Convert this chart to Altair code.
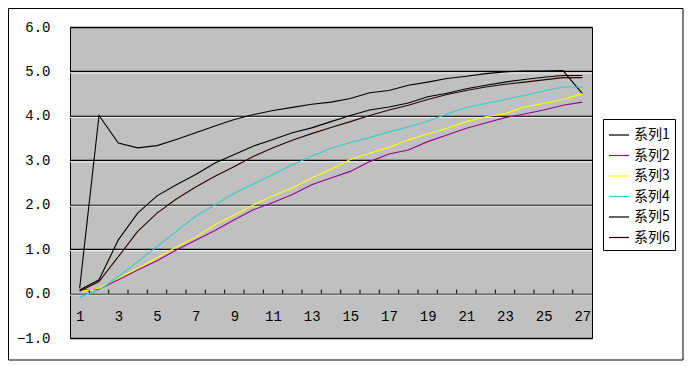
import altair as alt
import pandas as pd

categories = list(range(1, 28))
series_names = ["系列1", "系列2", "系列3", "系列4", "系列5", "系列6"]

s1 = [0.12, 4.01, 3.39, 3.28, 3.33, 3.47, 3.62, 3.77, 3.92, 4.03, 4.12, 4.19, 4.26, 4.31,
      4.39, 4.52, 4.57, 4.69, 4.76, 4.84, 4.89, 4.95, 4.99, 5.01, 5.01, 5.02, 4.50]
s2 = [0.08, 0.10, 0.31, 0.53, 0.74, 0.98, 1.20, 1.42, 1.66, 1.89, 2.05, 2.23, 2.45, 2.60,
      2.75, 2.97, 3.14, 3.23, 3.42, 3.57, 3.72, 3.84, 3.96, 4.04, 4.13, 4.24, 4.31]
s3 = [0.05, 0.12, 0.35, 0.57, 0.80, 1.05, 1.27, 1.55, 1.77, 2.00, 2.20, 2.38, 2.60, 2.80,
      3.02, 3.16, 3.29, 3.46, 3.59, 3.72, 3.87, 3.98, 4.05, 4.20, 4.28, 4.37, 4.50]
s4 = [-0.08, 0.08, 0.38, 0.72, 1.06, 1.40, 1.74, 2.00, 2.26, 2.47, 2.68, 2.90, 3.09, 3.27,
      3.40, 3.51, 3.64, 3.75, 3.88, 4.04, 4.19, 4.28, 4.37, 4.46, 4.56, 4.65, 4.65]
s5 = [0.08, 0.31, 1.21, 1.81, 2.20, 2.45, 2.68, 2.94, 3.13, 3.32, 3.47, 3.62, 3.73, 3.87,
      4.01, 4.13, 4.20, 4.29, 4.43, 4.51, 4.61, 4.69, 4.76, 4.82, 4.87, 4.91, 4.91]
s6 = [0.05, 0.27, 0.83, 1.40, 1.81, 2.13, 2.40, 2.64, 2.86, 3.09, 3.28, 3.45, 3.60, 3.74,
      3.87, 4.01, 4.13, 4.24, 4.37, 4.48, 4.57, 4.65, 4.71, 4.76, 4.81, 4.86, 4.86]

y_ticks = [-1, 0, 1, 2, 3, 4, 5, 6]
x_label_values = [c for c in categories if c % 2 == 1]
x_tick_values = [c + 0.5 for c in categories[:-1]]

colors = ["#000000", "#990099", "#FFFF00", "#33CCCC", "#000000", "#2a0000"]

all_series = [s1, s2, s3, s4, s5, s6]
rows = []
for name, vals in zip(series_names, all_series):
    for c, v in zip(categories, vals):
        rows.append({"cat": c, "value": v, "series": name})
df = pd.DataFrame(rows)

W, H = 522, 311
px_per_unit = H / 7
tick_len = 4 / px_per_unit
xscale = alt.Scale(domain=[0.5, 27.5], nice=False, zero=False)
yscale = alt.Scale(domain=[-1, 6], nice=False, zero=False)
zero_from_top = H * 6 / 7

lines = alt.Chart(df).mark_line(strokeWidth=1.1).encode(
    x=alt.X("cat:Q", scale=xscale, title=None,
            axis=alt.Axis(orient="bottom", offset=-(H - zero_from_top), values=x_label_values,
                          format="d", ticks=False, domain=False, grid=False,
                          labelPadding=16, labelFont="Liberation Mono", labelFontSize=14,
                          labelColor="#000000", labelFlush=False)),
    y=alt.Y("value:Q", scale=yscale, title=None,
            axis=alt.Axis(values=y_ticks, format=".1f", ticks=False, domain=False,
                          grid=True, gridColor="#000000", gridWidth=1.3,
                          labelPadding=20, labelFont="Liberation Mono", labelFontSize=14,
                          labelColor="#000000")),
    color=alt.Color("series:N", title=None,
                    scale=alt.Scale(domain=series_names, range=colors),
                    legend=alt.Legend(orient="none", legendX=533, legendY=92,
                                      direction="vertical", strokeColor="#000000",
                                      fillColor="#FFFFFF", padding=5,
                                      symbolType="stroke", symbolSize=400,
                                      symbolStrokeWidth=1.2, labelFont="Noto Sans CJK SC",
                                      labelFontSize=14, labelColor="#000000",
                                      rowPadding=2.5, labelOffset=4)),
    detail="series:N",
)

# white highlight under each gridline (3D look of the original)
hl_df = pd.DataFrame({"g": y_ticks[1:-1]})
highlight = alt.Chart(hl_df).mark_rule(color="#FFFFFF", strokeWidth=1, yOffset=1.5).encode(
    y=alt.Y("g:Q", scale=yscale),
    x=alt.value(0), x2=alt.value(W),
)

tick_df = pd.DataFrame({"t": x_tick_values, "y0": [0.0] * len(x_tick_values),
                        "y1": [tick_len] * len(x_tick_values)})
ticks = alt.Chart(tick_df).mark_rule(color="#000000", strokeWidth=1).encode(
    x=alt.X("t:Q", scale=xscale),
    y=alt.Y("y0:Q", scale=yscale),
    y2="y1:Q",
)

border = alt.Chart(pd.DataFrame({"a": [0]})).mark_rect(
    fillOpacity=0, stroke="#000000", strokeWidth=1
).encode(
    x=alt.value(-61.5), x2=alt.value(613), y=alt.value(-18.5), y2=alt.value(333)
)

chart = alt.layer(border, highlight, ticks, lines).properties(
    width=W, height=H,
    background="#FFFFFF",
    autosize=alt.AutoSizeParams(type="none"),
    padding={"left": 62, "top": 19, "right": 92, "bottom": 23},
).configure_view(
    fill="#C0C0C0", stroke="#000000", strokeWidth=1
)

chart.save("out.html", embed_options={"renderer": "svg", "actions": False})
